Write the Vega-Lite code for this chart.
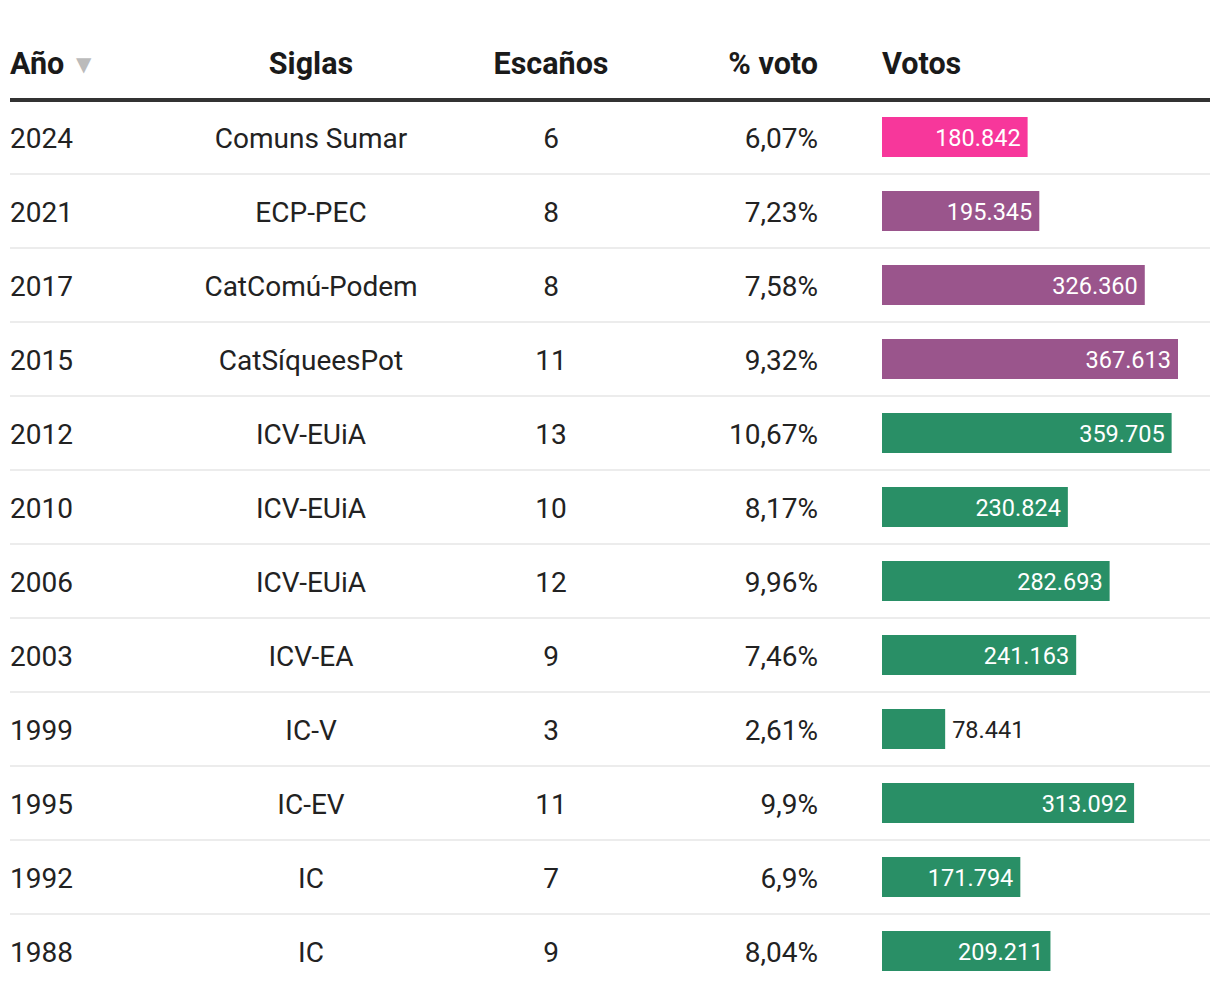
{
  "$schema": "https://vega.github.io/schema/vega-lite/v6.json",
  "background": "#ffffff",
  "padding": {"left": 10, "top": 50, "right": 10, "bottom": 0},
  "bounds": "flush",
  "datasets": {
    "rows": [
      {"year": 2024, "siglas": "Comuns Sumar", "escanos": 6, "pct": 6.07, "votos": 180842, "bloc": "sumar"},
      {"year": 2021, "siglas": "ECP-PEC", "escanos": 8, "pct": 7.23, "votos": 195345, "bloc": "comuns"},
      {"year": 2017, "siglas": "CatComú-Podem", "escanos": 8, "pct": 7.58, "votos": 326360, "bloc": "comuns"},
      {"year": 2015, "siglas": "CatSíqueesPot", "escanos": 11, "pct": 9.32, "votos": 367613, "bloc": "comuns"},
      {"year": 2012, "siglas": "ICV-EUiA", "escanos": 13, "pct": 10.67, "votos": 359705, "bloc": "icv"},
      {"year": 2010, "siglas": "ICV-EUiA", "escanos": 10, "pct": 8.17, "votos": 230824, "bloc": "icv"},
      {"year": 2006, "siglas": "ICV-EUiA", "escanos": 12, "pct": 9.96, "votos": 282693, "bloc": "icv"},
      {"year": 2003, "siglas": "ICV-EA", "escanos": 9, "pct": 7.46, "votos": 241163, "bloc": "icv"},
      {"year": 1999, "siglas": "IC-V", "escanos": 3, "pct": 2.61, "votos": 78441, "bloc": "icv"},
      {"year": 1995, "siglas": "IC-EV", "escanos": 11, "pct": 9.9, "votos": 313092, "bloc": "icv"},
      {"year": 1992, "siglas": "IC", "escanos": 7, "pct": 6.9, "votos": 171794, "bloc": "icv"},
      {"year": 1988, "siglas": "IC", "escanos": 9, "pct": 8.04, "votos": 209211, "bloc": "icv"}
    ]
  },
  "spacing": 0,
  "hconcat": [
    {
      "width": 181,
      "height": 888,
      "data": {"name": "rows"},
      "mark": {"type": "text", "align": "left", "baseline": "middle", "fontSize": 28, "color": "#222222", "dy": 3},
      "encoding": {
        "y": {"field": "year", "type": "ordinal", "sort": "descending", "scale": {"type": "band", "paddingInner": 0, "paddingOuter": 0}},
        "x": {"datum": "Año", "type": "nominal", "scale": {"type": "point", "align": 0, "padding": 0},
              "axis": {"orient": "top", "labelAlign": "left", "title": "▼", "titleColor": "#bbbbbb", "titleFontSize": 20, "titleFontWeight": "normal", "titleAlign": "left", "titleBaseline": "alphabetic", "titleX": 66, "titleY": -29, "titleFont": "DejaVu Sans"}},
        "text": {"field": "year", "type": "nominal"}
      }
    },
    {
      "width": 240,
      "height": 888,
      "data": {"name": "rows"},
      "mark": {"type": "text", "align": "center", "baseline": "middle", "fontSize": 28, "color": "#222222", "dy": 3},
      "encoding": {
        "y": {"field": "year", "type": "ordinal", "sort": "descending", "scale": {"type": "band", "paddingInner": 0, "paddingOuter": 0}},
        "x": {"datum": "Siglas", "type": "nominal", "scale": {"type": "point", "align": 0.5, "padding": 0}, "axis": {"orient": "top", "labelAlign": "center"}},
        "text": {"field": "siglas", "type": "nominal"}
      }
    },
    {
      "width": 240,
      "height": 888,
      "data": {"name": "rows"},
      "mark": {"type": "text", "align": "center", "baseline": "middle", "fontSize": 28, "color": "#222222", "dy": 3},
      "encoding": {
        "y": {"field": "year", "type": "ordinal", "sort": "descending", "scale": {"type": "band", "paddingInner": 0, "paddingOuter": 0}},
        "x": {"datum": "Escaños", "type": "nominal", "scale": {"type": "point", "align": 0.5, "padding": 0}, "axis": {"orient": "top", "labelAlign": "center"}},
        "text": {"field": "escanos", "type": "nominal"}
      }
    },
    {
      "width": 211,
      "height": 888,
      "data": {"name": "rows"},
      "transform": [{"calculate": "format(datum.pct, '.2~f') + '%'", "as": "pctLabel"}],
      "mark": {"type": "text", "align": "right", "baseline": "middle", "fontSize": 28, "color": "#222222", "dx": -64, "dy": 3},
      "encoding": {
        "y": {"field": "year", "type": "ordinal", "sort": "descending", "scale": {"type": "band", "paddingInner": 0, "paddingOuter": 0}},
        "x": {"datum": "% voto", "type": "nominal", "scale": {"type": "point", "align": 1, "padding": 0}, "axis": {"orient": "top", "labelAlign": "right", "labelOffset": -64}},
        "text": {"field": "pctLabel", "type": "nominal"}
      }
    },
    {
      "width": 328,
      "height": 888,
      "data": {"name": "rows"},
      "encoding": {
        "y": {"field": "year", "type": "ordinal", "sort": "descending", "scale": {"type": "band", "paddingInner": 0, "paddingOuter": 0}},
        "x": {"field": "votos", "type": "quantitative", "scale": {"domain": [0, 407355], "nice": false},
              "axis": {"orient": "top", "values": [0], "labelExpr": "'Votos'", "labelAlign": "left", "labelFlush": false}}
      },
      "layer": [
        {
          "mark": {"type": "bar", "height": {"band": 0.54}},
          "encoding": {
            "color": {"field": "bloc", "type": "nominal", "legend": null,
                      "scale": {"domain": ["sumar", "comuns", "icv"], "range": ["#f7379b", "#9a558c", "#298f66"]}}
          }
        },
        {
          "transform": [{"filter": "datum.votos >= 100000"}],
          "mark": {"type": "text", "align": "right", "baseline": "middle", "fontSize": 23.5, "color": "#ffffff", "dx": -7, "dy": 2},
          "encoding": {"text": {"field": "votos", "type": "quantitative", "format": ",d"}}
        },
        {
          "transform": [{"filter": "datum.votos < 100000"}],
          "mark": {"type": "text", "align": "left", "baseline": "middle", "fontSize": 23.5, "color": "#222222", "dx": 7, "dy": 2},
          "encoding": {"text": {"field": "votos", "type": "quantitative", "format": ",d"}}
        }
      ]
    }
  ],
  "config": {
    "font": "Roboto",
    "view": {"stroke": null},
    "locale": {"number": {"decimal": ",", "thousands": ".", "grouping": [3], "currency": ["", " €"]}},
    "axis": {"translate": 0},
    "axisX": {
      "labelFont": "Roboto", "labelFontSize": 30.5, "labelFontWeight": "bold", "labelColor": "#1a1a1a",
      "labelPadding": 26, "labelBaseline": "alphabetic", "labelAngle": 0,
      "ticks": false, "tickSize": 0, "domainColor": "#333333", "domainWidth": 4, "grid": false, "title": null
    },
    "axisY": {
      "title": null, "labels": false, "ticks": false, "tickSize": 0, "domain": false,
      "grid": true, "bandPosition": 0, "gridColor": "#ececec", "gridWidth": 2
    }
  }
}
